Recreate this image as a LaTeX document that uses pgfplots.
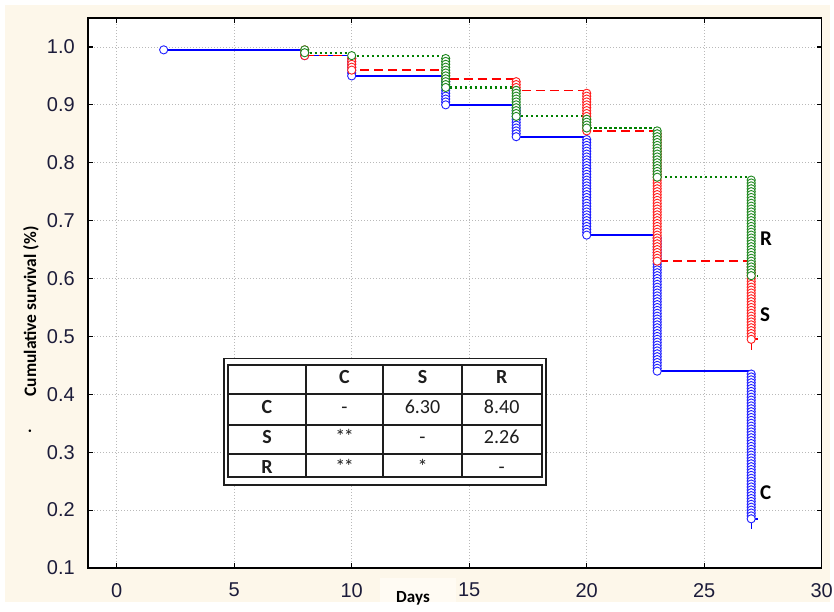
\documentclass[border=0pt]{standalone}
\usepackage{pgfplots}
\pgfplotsset{compat=1.18}
\usepackage{fontspec}
\setmainfont{Liberation Sans}
\newfontfamily\carl{Carlito}
\definecolor{cream}{RGB}{253,247,234}
\definecolor{daysbox}{RGB}{255,251,243}
\definecolor{tickc}{RGB}{28,28,58}
\definecolor{kblue}{RGB}{0,0,255}
\definecolor{kred}{RGB}{255,0,0}
\definecolor{kgreen}{RGB}{0,128,0}
\definecolor{mblue}{RGB}{30,30,255}
\definecolor{mred}{RGB}{255,30,30}
\definecolor{mgreen}{RGB}{30,135,30}
\definecolor{tabc}{RGB}{30,30,30}
\begin{document}
\begin{tikzpicture}
\fill[white] (0pt,0pt) rectangle (834pt,612pt);
\fill[cream] (5pt,10pt) rectangle (830pt,607pt);
\fill[daysbox] (380pt,10pt) rectangle (456pt,34pt);
\useasboundingbox (0pt,0pt) rectangle (834pt,612pt);
\begin{axis}[
  at={(88pt,44pt)}, anchor=south west,
  scale only axis, width=733.7pt, height=550pt,
  xmin=-1.22, xmax=30, ymin=0.1, ymax=1.05,
  axis background/.style={fill=white},
  axis line style={black, line width=1.4pt},
  xtick={0,5,10,15,20,25,30},
  ytick={0.1,0.2,0.3,0.4,0.5,0.6,0.7,0.8,0.9,1.0},
  grid=major,
  grid style={gray!55, line width=0.7pt, dash pattern=on 1pt off 2pt},
  tick align=inside, major tick length=4.5pt,
  tick style={black, line width=1.2pt},
  /pgf/number format/assume math mode=true,
  ticklabel style={font=\fontsize{20}{24}\selectfont, text=tickc},
  yticklabel style={/pgf/number format/fixed, /pgf/number format/fixed zerofill, /pgf/number format/precision=1, anchor=east, inner sep=0pt, xshift=-13pt},
  xticklabel style={anchor=north, inner sep=0pt, yshift=-15pt},
  mark size=4.1pt,
]
% ---- C (blue) ----
\addplot[kblue, line width=1.7pt, const plot, mark=none] coordinates {
(2,0.995)(8,0.985)(10,0.950)(14,0.900)(17,0.845)(20,0.675)(23,0.440)(27,0.185)(27.3,0.185)};
\addplot[kblue, line width=0.9pt, mark=none] coordinates {(27,0.185)(27,0.167)};
\addplot[only marks, mark=*, mark options={draw=mblue, fill=white, line width=0.9pt}] coordinates {
(2,.995)
(8,.990)(8,.985)
(10,.980)(10,.975)(10,.970)(10,.965)(10,.960)(10,.955)(10,.950)
(14,.945)(14,.940)(14,.935)(14,.930)(14,.925)(14,.920)(14,.915)(14,.910)(14,.905)(14,.900)
(17,.895)(17,.890)(17,.885)(17,.880)(17,.875)(17,.870)(17,.865)(17,.860)(17,.855)(17,.850)(17,.845)
(20,.840)(20,.835)(20,.830)(20,.825)(20,.820)(20,.815)(20,.810)(20,.805)(20,.800)(20,.795)
(20,.790)(20,.785)(20,.780)(20,.775)(20,.770)(20,.765)(20,.760)(20,.755)(20,.750)(20,.745)
(20,.740)(20,.735)(20,.730)(20,.725)(20,.720)(20,.715)(20,.710)(20,.705)(20,.700)(20,.695)
(20,.690)(20,.685)(20,.680)(20,.675)
(23,.670)(23,.665)(23,.660)(23,.655)(23,.650)(23,.645)(23,.640)(23,.635)(23,.630)(23,.625)
(23,.620)(23,.615)(23,.610)(23,.605)(23,.600)(23,.595)(23,.590)(23,.585)(23,.580)(23,.575)
(23,.570)(23,.565)(23,.560)(23,.555)(23,.550)(23,.545)(23,.540)(23,.535)(23,.530)(23,.525)
(23,.520)(23,.515)(23,.510)(23,.505)(23,.500)(23,.495)(23,.490)(23,.485)(23,.480)(23,.475)
(23,.470)(23,.465)(23,.460)(23,.455)(23,.450)(23,.445)(23,.440)
(27,.435)(27,.430)(27,.425)(27,.420)(27,.415)(27,.410)(27,.405)(27,.400)(27,.395)(27,.390)
(27,.385)(27,.380)(27,.375)(27,.370)(27,.365)(27,.360)(27,.355)(27,.350)(27,.345)(27,.340)
(27,.335)(27,.330)(27,.325)(27,.320)(27,.315)(27,.310)(27,.305)(27,.300)(27,.295)(27,.290)
(27,.285)(27,.280)(27,.275)(27,.270)(27,.265)(27,.260)(27,.255)(27,.250)(27,.245)(27,.240)
(27,.235)(27,.230)(27,.225)(27,.220)(27,.215)(27,.210)(27,.205)(27,.200)(27,.195)(27,.190)
(27,.185)};
% ---- S (red) ----
\addplot[kred, line width=1.7pt, const plot, mark=none, dash pattern=on 9pt off 5pt] coordinates {
(8,0.985)(10,0.960)(14,0.945)(17,0.925)(20,0.855)(23,0.630)(27,0.495)(27.3,0.495)};
\addplot[kred, line width=0.9pt, mark=none] coordinates {(27,0.495)(27,0.477)};
\addplot[only marks, mark=*, mark options={draw=mred, fill=white, line width=0.9pt}] coordinates {
(8,.995)(8,.990)(8,.985)
(10,.980)(10,.975)(10,.970)(10,.965)(10,.960)
(14,.955)(14,.950)(14,.945)
(17,.940)(17,.935)(17,.930)(17,.925)
(20,.920)(20,.915)(20,.910)(20,.905)(20,.900)(20,.895)(20,.890)(20,.885)(20,.880)(20,.875)
(20,.870)(20,.865)(20,.860)(20,.855)
(23,.850)(23,.845)(23,.840)(23,.835)(23,.830)(23,.825)(23,.820)(23,.815)(23,.810)(23,.805)
(23,.800)(23,.795)(23,.790)(23,.785)(23,.780)(23,.775)(23,.770)(23,.765)(23,.760)(23,.755)
(23,.750)(23,.745)(23,.740)(23,.735)(23,.730)(23,.725)(23,.720)(23,.715)(23,.710)(23,.705)
(23,.700)(23,.695)(23,.690)(23,.685)(23,.680)(23,.675)(23,.670)(23,.665)(23,.660)(23,.655)
(23,.650)(23,.645)(23,.640)(23,.635)(23,.630)
(27,.625)(27,.620)(27,.615)(27,.610)(27,.605)(27,.600)(27,.595)(27,.590)(27,.585)(27,.580)
(27,.575)(27,.570)(27,.565)(27,.560)(27,.555)(27,.550)(27,.545)(27,.540)(27,.535)(27,.530)
(27,.525)(27,.520)(27,.515)(27,.510)(27,.505)(27,.500)(27,.495)};
% ---- R (green) ----
\addplot[kgreen, line width=2.1pt, const plot, mark=none, dash pattern=on 2.2pt off 2.8pt] coordinates {
(8,0.990)(10,0.985)(14,0.930)(17,0.880)(20,0.860)(23,0.775)(27,0.605)(27.3,0.605)};
\addplot[only marks, mark=*, mark options={draw=mgreen, fill=white, line width=0.9pt}] coordinates {
(8,.995)(8,.990)
(10,.985)
(14,.980)(14,.975)(14,.970)(14,.965)(14,.960)(14,.955)(14,.950)(14,.945)(14,.940)(14,.935)(14,.930)
(17,.925)(17,.920)(17,.915)(17,.910)(17,.905)(17,.900)(17,.895)(17,.890)(17,.885)(17,.880)
(20,.875)(20,.870)(20,.865)(20,.860)
(23,.855)(23,.850)(23,.845)(23,.840)(23,.835)(23,.830)(23,.825)(23,.820)(23,.815)(23,.810)
(23,.805)(23,.800)(23,.795)(23,.790)(23,.785)(23,.780)(23,.775)
(27,.770)(27,.765)(27,.760)(27,.755)(27,.750)(27,.745)(27,.740)(27,.735)(27,.730)(27,.725)
(27,.720)(27,.715)(27,.710)(27,.705)(27,.700)(27,.695)(27,.690)(27,.685)(27,.680)(27,.675)
(27,.670)(27,.665)(27,.660)(27,.655)(27,.650)(27,.645)(27,.640)(27,.635)(27,.630)(27,.625)
(27,.620)(27,.615)(27,.610)(27,.605)};
\end{axis}
% axis labels
\node[anchor=base, inner sep=0pt, font=\carl\bfseries\fontsize{17}{20}\selectfont] at (413pt,9pt) {Days};
\node[rotate=90, anchor=center, inner sep=0pt, font=\carl\bfseries\fontsize{17.5}{20}\selectfont] at (31pt,300.5pt) {Cumulative survival (\%)};
\node[rotate=90, anchor=center, inner sep=0pt, font=\carl\bfseries\fontsize{17}{20}\selectfont] at (30pt,181pt) {.};
% curve labels
\node[anchor=base west, inner sep=0pt, font=\carl\bfseries\fontsize{21}{24}\selectfont] at (760pt,366pt) {R};
\node[anchor=base west, inner sep=0pt, font=\carl\bfseries\fontsize{21}{24}\selectfont] at (760pt,290.3pt) {S};
\node[anchor=base west, inner sep=0pt, font=\carl\bfseries\fontsize{21}{24}\selectfont] at (760pt,112pt) {C};
% inset table
\draw[tabc, line width=1.2pt, fill=white] (224pt,127pt) rectangle (546pt,253.7pt);
\draw[tabc, line width=1.8pt] (228.3pt,135.3pt) rectangle (541.7pt,247pt);
\foreach \xx in {305.7,383.3,461.7} \draw[tabc, line width=1.8pt] (\xx pt,135.3pt) -- (\xx pt,247pt);
\foreach \yy in {217.7,187,158} \draw[tabc, line width=1.8pt] (228.3pt,\yy pt) -- (541.7pt,\yy pt);
\begin{scope}[every node/.style={anchor=base, inner sep=0pt, font=\carl\fontsize{20}{24}\selectfont, text=tabc}]
\node[font=\carl\bfseries\fontsize{20}{24}\selectfont] at (344.5pt,228.7pt) {C};
\node[font=\carl\bfseries\fontsize{20}{24}\selectfont] at (422.5pt,228.7pt) {S};
\node[font=\carl\bfseries\fontsize{20}{24}\selectfont] at (501.7pt,228.7pt) {R};
\node[font=\carl\bfseries\fontsize{20}{24}\selectfont] at (267pt,198pt) {C};
\node[font=\carl\bfseries\fontsize{20}{24}\selectfont] at (267pt,168pt) {S};
\node[font=\carl\bfseries\fontsize{20}{24}\selectfont] at (267pt,138.7pt) {R};
\node at (344.5pt,198pt) {-};
\node at (422.5pt,198pt) {6.30};
\node at (501.7pt,198pt) {8.40};
\node at (344.5pt,168pt) {*\kern-1.5pt*};
\node at (422.5pt,168pt) {-};
\node at (501.7pt,168pt) {2.26};
\node at (344.5pt,138.7pt) {*\kern-1.5pt*};
\node at (422.5pt,138.7pt) {*};
\node at (501.7pt,138.7pt) {-};
\end{scope}
\end{tikzpicture}
\end{document}
